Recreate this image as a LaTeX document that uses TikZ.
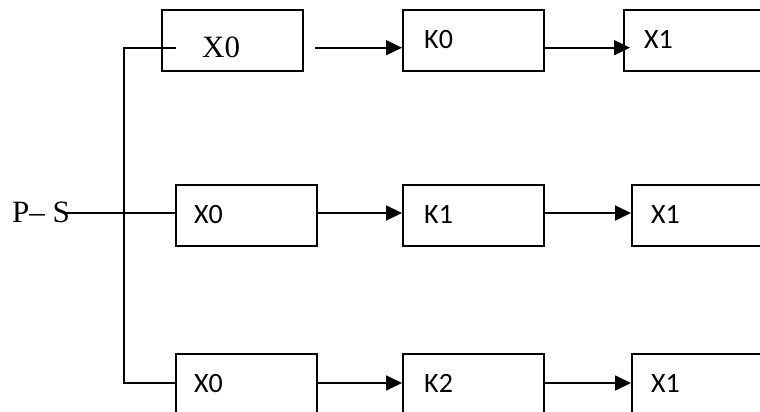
\documentclass[tikz,border=0pt]{standalone}
\usepackage{fontspec}
\setmainfont{Liberation Serif}
\newfontfamily\boxfont{Carlito}
\usetikzlibrary{arrows.meta}
\begin{document}
\begin{tikzpicture}[x=1pt,y=-1pt,
  blk/.style={draw,line width=1.8pt,minimum width=141pt,minimum height=61pt,inner sep=0pt,anchor=north west},
  wideblk/.style={blk,minimum width=160pt},
  lbl/.style={anchor=base west,inner sep=0pt,font=\boxfont\fontsize{28}{28}\selectfont},
  serif/.style={anchor=base west,inner sep=0pt,font=\fontsize{31}{31}\selectfont},
  wire/.style={line width=1.8pt},
  flow/.style={wire,-{Triangle[length=16pt,width=15pt]}}]
\clip (0,0) rectangle (760,412);
\fill[white] (0,0) rectangle (760,412);

% row 1
\node[blk] (a0) at (161,9) {};
\node[blk] (k0) at (402,9) {};
\node[wideblk] (x1a) at (623,9) {};
\node[serif] (ta0) at (202,57) {X0};
\node[lbl] (tk0) at (424,48.5) {K0};
\node[lbl] (tx1a) at (644,48.5) {X1};

% row 2
\node[blk] (b0) at (175,184) {};
\node[blk] (k1) at (402,184) {};
\node[wideblk] (x1b) at (631,184) {};
\node[lbl] (tb0) at (194,223) {X0};
\node[lbl] (tk1) at (424,223) {K1};
\node[lbl] (tx1b) at (651,223) {X1};

% row 3
\node[blk] (c0) at (175,353) {};
\node[blk] (k2) at (402,353) {};
\node[wideblk] (x1c) at (631,353) {};
\node[lbl] (tc0) at (194,392) {X0};
\node[lbl] (tk2) at (424,392) {K2};
\node[lbl] (tx1c) at (651,392) {X1};

% input label
\node[serif] (ps) at (12,222) {P– S};

% branching wires
\coordinate (top) at (124,47.7);
\coordinate (mid) at (124,213);
\coordinate (bot) at (124,383);
\coordinate (topend) at (176,47.7);
\coordinate (a0out) at (315,47.7);
\draw[wire] (topend) -- (top) -- (bot) -- (c0.west |- bot);
\draw[wire] ([xshift=-4pt]ps.east |- mid) -- (b0.west |- mid);

% arrows
\draw[flow] (a0out) -- (k0.west |- a0out);
\draw[flow] (k0.east |- a0out) -- ([xshift=7pt]x1a.west |- a0out);
\draw[flow] (b0.east |- mid) -- (k1.west |- mid);
\draw[flow] (k1.east |- mid) -- (x1b.west |- mid);
\draw[flow] (c0.east |- bot) -- (k2.west |- bot);
\draw[flow] (k2.east |- bot) -- (x1c.west |- bot);
\end{tikzpicture}
\end{document}
